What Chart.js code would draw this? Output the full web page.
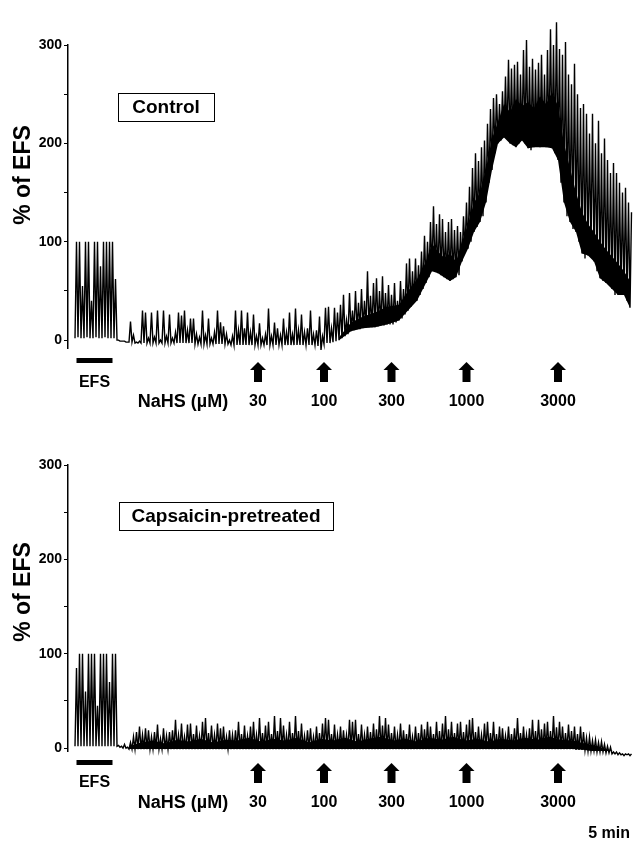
<!DOCTYPE html>
<html>
<head>
<meta charset="utf-8">
<script src="https://cdn.jsdelivr.net/npm/chart.js@4.4.1/dist/chart.umd.min.js"></script>
<style>
  html, body { margin: 0; padding: 0; background: #fff; }
  #wrap { position: relative; width: 633px; height: 844px; }
  canvas { position: absolute; left: 0; width: 633px; height: 422px; }
  #top { top: 0; }
  #bottom { top: 422px; }
</style>
</head>
<body>
<div id="wrap">
  <canvas id="top" width="633" height="422"></canvas>
  <canvas id="bottom" width="633" height="422"></canvas>
</div>
<script>
// one sample every ~3 px of trace; trough = where the trace rests, peak = top of the contraction
const ctrlTrough = [
  2, 3, 2, 2, 3, 2, 2, 3, 2, 2,
  3, 2, 2, 2, 0, -1, -1, -2, -2, -2,
  -3, -3, -3, -3, -3, -3, -3, -3, -3, -3,
  -3, -3, -3, -3, -3, -3, -3, -3, -3, -3,
  -4, -4, -4, -4, -4, -4, -4, -4, -4, -4,
  -4, -4, -5, -5, -5, -5, -5, -5, -5, -5,
  -5, -5, -5, -5, -5, -5, -5, -5, -5, -5,
  -5, -5, -5, -5, -5, -5, -5, -5, -5, -5,
  -5, -6, -10, -4, -3, -3, -2, -1, 0, 2,
  4, 6, 9, 10, 11, 11, 12, 13, 13, 13,
  13, 14, 15, 15, 16, 16, 16, 18, 20, 22,
  26, 30, 34, 38, 40, 46, 52, 58, 64, 70,
  70, 68, 66, 64, 62, 60, 62, 64, 66, 80,
  90, 93, 100, 110, 115, 120, 126, 140, 160, 173,
  190, 200, 203, 206, 205, 200, 198, 196, 200, 203,
  200, 195, 193, 196, 198, 196, 200, 196, 198, 195,
  190, 183, 160, 140, 126, 120, 113, 110, 100, 88,
  83, 86, 90, 80, 70, 63, 60, 58, 56, 52,
  46, 46, 48, 46, 40, 33
];
const ctrlPeak = [
  100, 100, 55, 100, 100, 40, 100, 100, 75, 100,
  100, 100, 100, 62, 0, -1, -1, -2, 19, 5,
  -2, -1, 30, 28, 2, 28, 3, 30, 0, 30,
  4, 26, 2, 8, 28, 25, 30, 10, 22, 22,
  6, 3, 30, 5, 22, 2, 8, 30, 18, 14,
  6, 0, 4, 30, 10, 30, 12, 28, 8, 26,
  4, 17, 2, 6, 32, 4, 18, 12, 5, 22,
  8, 28, 6, 32, 10, 26, 8, 12, 30, 6,
  10, 24, 4, 33, 34, 12, 33, 28, 36, 46,
  20, 48, 30, 50, 38, 52, 40, 70, 45, 58,
  63, 50, 65, 48, 56, 46, 58, 40, 60, 52,
  78, 83, 70, 83, 76, 90, 106, 100, 120, 136,
  118, 128, 123, 110, 120, 123, 112, 116, 110, 126,
  140, 156, 175, 190, 182, 196, 203, 220, 235, 246,
  250, 240, 253, 268, 285, 276, 280, 283, 270, 295,
  305, 278, 286, 275, 282, 290, 270, 295, 316, 300,
  323, 296, 290, 303, 270, 260, 281, 250, 236, 240,
  230, 210, 230, 200, 223, 190, 205, 183, 170, 180,
  170, 160, 150, 155, 140, 130
];
// solid black core of the dense part of the control trace
const ctrlCoreAt = [88, 92, 96, 100, 104, 108, 111, 114, 117, 119, 121, 123, 125, 127, 129, 131, 133, 135, 137, 139,
  141, 143, 145, 147, 149, 151, 153, 155, 157, 159, 161, 163, 165, 167, 169, 171, 173, 175, 177, 179, 181, 183, 185];
const ctrlCoreLo = [0, 9, 12, 13, 16, 20, 30, 40, 58, 70, 68, 64, 60, 64, 80, 93, 110, 120, 140, 173,
  200, 206, 200, 196, 203, 195, 196, 196, 196, 195, 183, 140, 120, 110, 88, 86, 80, 63, 58, 52, 46, 46, 33];
const ctrlCoreHi = [3, 18, 24, 28, 34, 36, 50, 62, 80, 98, 90, 84, 88, 80, 100, 118, 140, 150, 175, 205,
  222, 240, 232, 245, 238, 242, 236, 248, 240, 252, 238, 200, 175, 150, 130, 118, 110, 100, 92, 85, 78, 70, 60];

const capsTrough = [
  2, 2, 2, 2, 2, 2, 2, 2, 2, 2,
  2, 2, 2, 2, 2, 1, 0, 0, -1, -1,
  -1, -1, -1, -1, -1, -1, -1, -1, -1, -1,
  -1, -1, -1, -1, -1, -1, -1, -1, -1, -1,
  -1, -1, -1, -1, -1, -1, -1, -1, -1, -1,
  -1, -1, -1, -1, -1, -1, -1, -1, -1, -1,
  -1, -1, -1, -1, -1, -1, -1, -1, -1, -1,
  -1, -1, -1, -1, -1, -1, -1, -1, -1, -1,
  -1, -1, -1, -1, -1, -1, -1, -1, -1, -1,
  -1, -1, -1, -1, -1, -1, -1, -1, -1, -1,
  -1, -1, -1, -1, -1, -1, -1, -1, -1, -1,
  -1, -1, -1, -1, -1, -1, -1, -1, -1, -1,
  -1, -1, -1, -1, -1, -1, -1, -1, -1, -1,
  -1, -1, -1, -1, -1, -1, -1, -1, -1, -1,
  -1, -1, -1, -1, -1, -1, -1, -1, -1, -1,
  -1, -1, -1, -1, -1, -1, -1, -1, -1, -1,
  -1, -1, -1, -1, -1, -1, -1, -2, -2, -2,
  -2, -3, -3, -3, -4, -4, -4, -5, -5, -6,
  -6, -7, -7, -8, -7, -8
];
const capsPeak = [
  85, 100, 100, 60, 100, 100, 100, 45, 100, 100,
  100, 70, 100, 100, 3, 2, 4, 1, 6, 12,
  17, 23, 14, 21, 19, 12, 17, 25, 10, 21,
  13, 17, 19, 30, 14, 26, 12, 25, 26, 15,
  24, 13, 28, 32, 16, 24, 14, 26, 21, 23,
  12, 19, 14, 19, 28, 15, 24, 13, 23, 28,
  14, 32, 16, 24, 28, 15, 34, 18, 32, 24,
  14, 28, 16, 34, 18, 26, 13, 19, 21, 12,
  23, 16, 26, 32, 30, 15, 25, 14, 23, 19,
  14, 30, 28, 30, 15, 25, 14, 23, 17, 26,
  20, 34, 24, 32, 25, 16, 23, 14, 26, 19,
  15, 25, 12, 23, 16, 25, 20, 28, 23, 15,
  28, 18, 26, 34, 20, 28, 16, 26, 28, 17,
  25, 30, 32, 17, 23, 14, 26, 28, 16, 28,
  15, 23, 21, 13, 23, 15, 21, 32, 16, 23,
  14, 21, 30, 18, 30, 20, 26, 28, 18, 34,
  22, 28, 23, 16, 25, 18, 23, 15, 23, 17,
  11, 12, 8, 9, 6, 7, 4, 2, 1, -4,
  -4, -5, -6, -6, -6, -6
];
const capsCoreAt = [18, 22, 26, 30, 34, 38, 42, 46, 50, 54, 58, 62, 66, 70, 74, 78, 82, 86, 90, 94, 98,
  102, 106, 110, 114, 118, 122, 126, 130, 134, 138, 142, 146, 150, 154, 158, 162, 166, 170, 174, 178, 182];
const capsCoreLo = [-1, -1, -1, -1, -1, -1, -1, -1, -1, -1, -1, -1, -1, -1, -1, -1, -1, -1, -1, -1, -1,
  -1, -1, -1, -1, -1, -1, -1, -1, -1, -1, -1, -1, -1, -1, -1, -1, -1, -2, -4, -5, -7];
const capsCoreHi = [2, 6, 8, 5, 9, 7, 10, 6, 9, 8, 11, 7, 10, 8, 11, 6, 10, 8, 11, 7, 10,
  12, 8, 10, 7, 11, 9, 12, 8, 10, 7, 10, 8, 11, 9, 12, 9, 8, 5, 2, -2, -5];

const yTicks = [0, 50, 100, 150, 200, 250, 300];
const efsWindow = [0.5, 12.5];
const doseAt = [61, 83, 105.5, 130.5, 161];
const doseLabels = ['30', '100', '300', '1000', '3000'];

const FONT = 'Arial, "Liberation Sans", Helvetica, sans-serif';

function arrow(ctx, cx, top) {
  ctx.beginPath();
  ctx.moveTo(cx, top);
  ctx.lineTo(cx + 8, top + 8);
  ctx.lineTo(cx + 4, top + 8);
  ctx.lineTo(cx + 4, top + 20);
  ctx.lineTo(cx - 4, top + 20);
  ctx.lineTo(cx - 4, top + 8);
  ctx.lineTo(cx - 8, top + 8);
  ctx.closePath();
  ctx.fill();
}

function decor(cfg) {
  return {
    id: 'decor',
    afterDraw(chart) {
      const ctx = chart.ctx;
      const x = chart.scales.x;
      ctx.save();
      ctx.fillStyle = '#000';
      ctx.strokeStyle = '#000';
      ctx.textAlign = 'center';
      ctx.textBaseline = 'middle';

      ctx.save();
      ctx.font = `bold 23px ${FONT}`;
      ctx.translate(24, cfg.titleY);
      ctx.rotate(-Math.PI / 2);
      ctx.fillText('% of EFS', 0, 0);
      ctx.restore();

      const [bx, by, bw, bh] = cfg.box;
      ctx.lineWidth = 1;
      ctx.strokeRect(bx + 0.5, by + 0.5, bw, bh);
      ctx.font = `bold 19px ${FONT}`;
      ctx.fillText(cfg.boxText, bx + bw / 2, by + bh / 2 + 1);

      const x0 = x.getPixelForValue(efsWindow[0]);
      const x1 = x.getPixelForValue(efsWindow[1]);
      ctx.fillRect(x0, cfg.efsBarY, x1 - x0, 5);
      ctx.font = `bold 16px ${FONT}`;
      ctx.fillText('EFS', (x0 + x1) / 2, cfg.efsLabelY);

      doseAt.forEach((t, k) => {
        const px = x.getPixelForValue(t);
        arrow(ctx, px, cfg.arrowTop);
        ctx.fillText(doseLabels[k], px, cfg.doseY);
      });
      ctx.font = `bold 18px ${FONT}`;
      ctx.fillText('NaHS (µM)', 183, cfg.doseY);

      if (cfg.note) {
        ctx.font = `bold 16px ${FONT}`;
        ctx.textAlign = 'right';
        ctx.fillText(cfg.note, 630, cfg.noteY);
      }
      ctx.restore();
    }
  };
}

function makeChart(id, trough, peak, coreAt, coreLo, coreHi, yMin, padTop, padBottom, cfg) {
  const trace = [];
  trough.forEach((v, i) => {
    trace.push({ x: i, y: v });
    trace.push({ x: i + 0.5, y: peak[i] });
  });
  return new Chart(document.getElementById(id), {
    type: 'line',
    data: {
      datasets: [
        { data: coreAt.map((t, k) => ({ x: t, y: coreLo[k] })), borderWidth: 0, borderColor: 'rgba(0,0,0,0)', pointRadius: 0, fill: false },
        { data: coreAt.map((t, k) => ({ x: t, y: coreHi[k] })), borderWidth: 0, borderColor: 'rgba(0,0,0,0)', pointRadius: 0, fill: '-1', backgroundColor: '#000' },
        { data: trace, borderColor: '#000', borderWidth: 1.4, pointRadius: 0, tension: 0, fill: false, clip: false }
      ]
    },
    options: {
      responsive: false,
      animation: false,
      layout: { padding: { top: padTop, bottom: padBottom, left: 0, right: 0 } },
      plugins: { legend: { display: false }, tooltip: { enabled: false } },
      scales: {
        x: { type: 'linear', display: false, min: -7 / 3, max: 186 },
        y: {
          min: yMin,
          max: 300,
          afterFit: s => { s.width = 68; },
          afterBuildTicks: s => { s.ticks = yTicks.map(v => ({ value: v })); },
          ticks: {
            autoSkip: false,
            padding: 2,
            color: '#000',
            font: { family: FONT, size: 14, weight: 'bold' },
            callback: v => (v % 100 === 0 ? v : '')
          },
          grid: { drawOnChartArea: false, drawTicks: true, tickLength: 4, color: '#000' },
          border: { display: true, color: '#000', width: 1.5 }
        }
      }
    },
    plugins: [decor(cfg)]
  });
}

makeChart('top', ctrlTrough, ctrlPeak, ctrlCoreAt, ctrlCoreLo, ctrlCoreHi, -8, 45, 74, {
  titleY: 175, box: [118, 93, 96, 28], boxText: 'Control',
  efsBarY: 358, efsLabelY: 383, arrowTop: 362, doseY: 402
});
makeChart('bottom', capsTrough, capsPeak, capsCoreAt, capsCoreLo, capsCoreHi, -3, 43, 93, {
  titleY: 170, box: [119, 80, 214, 28], boxText: 'Capsaicin-pretreated',
  efsBarY: 338, efsLabelY: 361, arrowTop: 341, doseY: 381, note: '5 min', noteY: 412
});
</script>
</body>
</html>
